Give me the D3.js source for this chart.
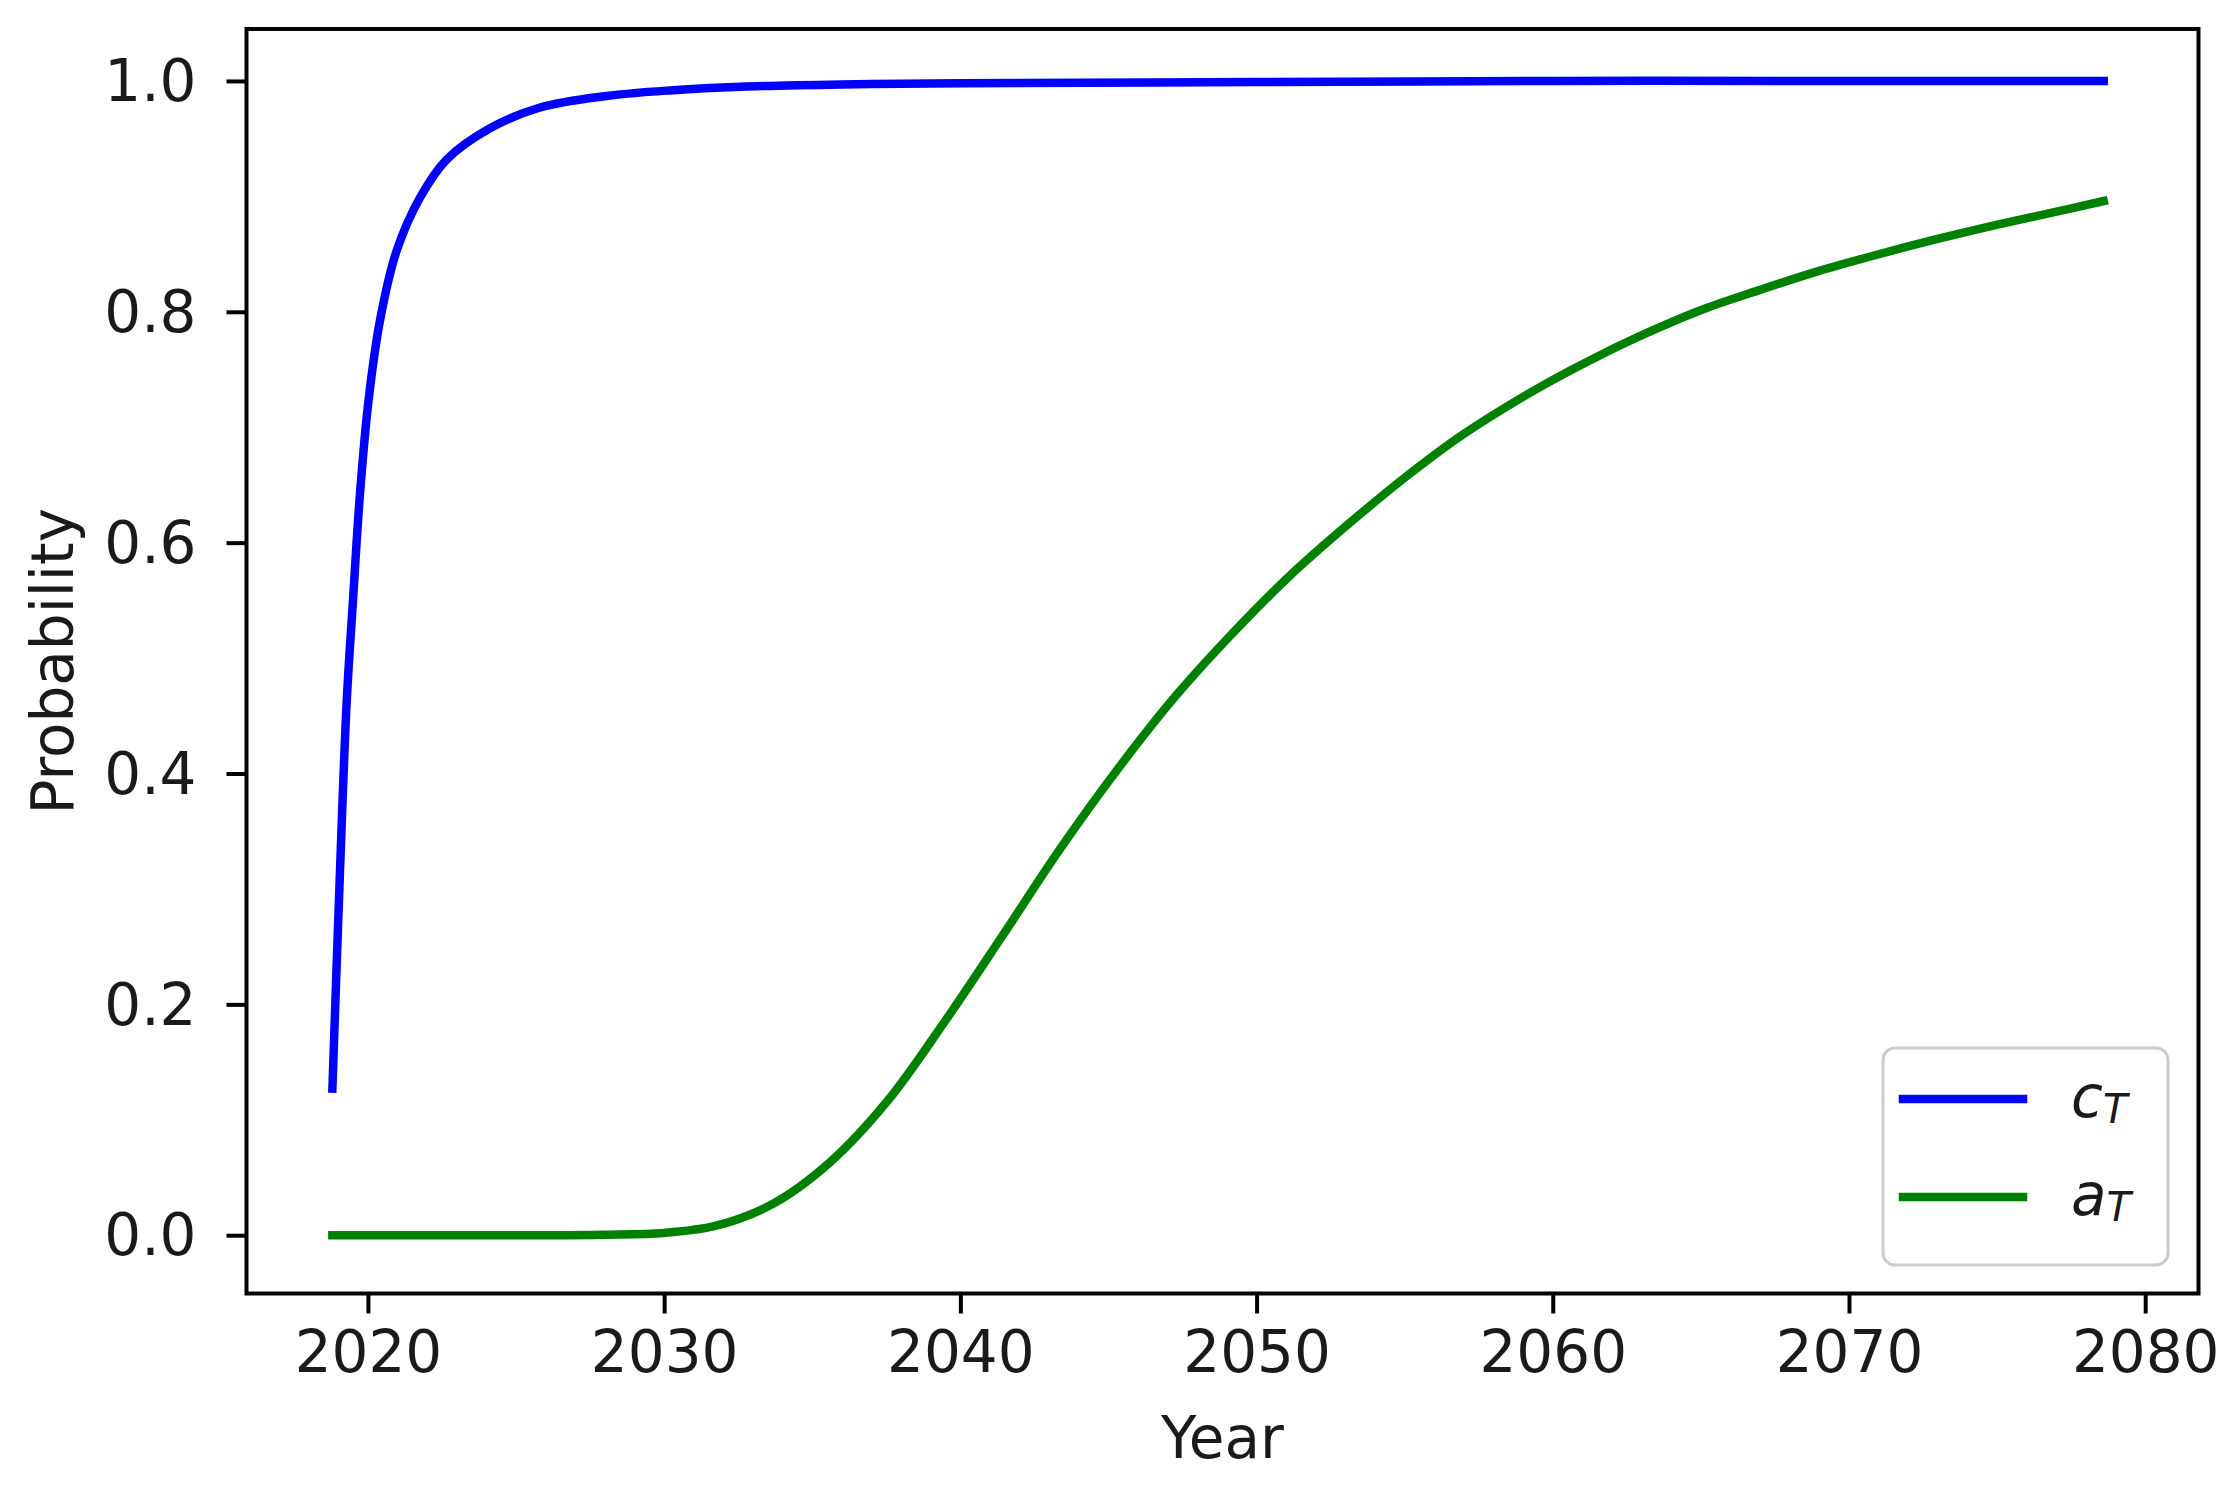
<!DOCTYPE html>
<html>
<head>
<meta charset="utf-8">
<script src="https://cdn.jsdelivr.net/npm/d3@7"></script>
<style>
	body { margin: 0; background: #fff; }
	text { font-family: "DejaVu Sans", sans-serif; fill: #1a1a1a; }
</style>
</head>
<body>
<div id="chart"></div>
<script>
// values
var cYears = [2018.8, 2019.05, 2019.28, 2019.5, 2019.73, 2020.01, 2020.41, 2020.97, 2021.76, 2022.66,
	2024.12, 2025.81, 2028.06, 2030.3, 2032.57, 2036, 2040, 2050, 2060, 2070, 2078.6];
var cValues = [0.127, 0.311, 0.461, 0.552, 0.642, 0.721, 0.793, 0.853, 0.899, 0.932,
	0.959, 0.977, 0.987, 0.992, 0.995, 0.997, 0.998, 0.999, 1.0, 1.0, 1.0];

var aYears = [2018.8, 2025, 2028, 2030, 2031.72, 2033.66, 2035.59, 2037.53, 2039.47, 2041.41,
	2043.35, 2045.29, 2047.23, 2049.17, 2051.11, 2053.05, 2054.99, 2056.93, 2059.24, 2061.18,
	2063.12, 2065.06, 2067.0, 2068.94, 2070.88, 2072.82, 2074.76, 2076.7, 2078.6];
var aValues = [0, 0, 0.0005, 0.002, 0.008, 0.027, 0.063, 0.116, 0.185, 0.259,
	0.334, 0.403, 0.466, 0.521, 0.571, 0.615, 0.656, 0.693, 0.730, 0.757,
	0.781, 0.802, 0.819, 0.835, 0.849, 0.862, 0.874, 0.885, 0.896];

var xTicks = [2020, 2030, 2040, 2050, 2060, 2070, 2080];
var yTicks = [0.0, 0.2, 0.4, 0.6, 0.8, 1.0];
var seriesNames = ["c", "a"];
var seriesColors = ["#0000ff", "#008000"];

var width = 2233;
var height = 1485;
// plot box (window.top is read only, so no "top" here)
var boxL = 246.5, boxR = 2198.5, boxT = 29, boxB = 1293.5;

var svg = d3.select("#chart")
	.append("svg")
	.attr("width", width)
	.attr("height", height);

var x = d3.scaleLinear().domain([2015.9, 2081.8]).range([boxL, boxR]);
var y = d3.scaleLinear().domain([-0.0505, 1.045]).range([boxB, boxT]);

var line = d3.line()
	.x(function (d) { return x(d[0]) })
	.y(function (d) { return y(d[1]) })
	.curve(d3.curveCatmullRom.alpha(0.5));

var series = [
	d3.zip(cYears, cValues),
	d3.zip(aYears, aValues)
];

var plot = svg.append("g");
plot.selectAll(".series")
	.data(series)
	.enter().append("path")
	.attr("class", "series")
	.attr("d", line)
	.attr("fill", "none")
	.attr("stroke", function (d, i) { return seriesColors[i] })
	.attr("stroke-width", 8.5)
	.attr("stroke-linecap", "square")
	.attr("stroke-linejoin", "round");

// axes
var xAxis = svg.append("g")
	.attr("transform", "translate(0," + boxB + ")")
	.call(d3.axisBottom(x).tickValues(xTicks).tickFormat(d3.format("d")).tickSize(20).tickPadding(14));

var yAxis = svg.append("g")
	.attr("transform", "translate(" + boxL + ",0)")
	.call(d3.axisLeft(y).tickValues(yTicks).tickFormat(d3.format(".1f")).tickSize(20).tickPadding(30));

[xAxis, yAxis].forEach(function (ax) {
	ax.select(".domain").remove();
	ax.selectAll(".tick line").attr("stroke", "#000").attr("stroke-width", 4);
	ax.selectAll(".tick text")
		.attr("font-family", "DejaVu Sans")
		.attr("font-size", 58)
		.attr("fill", "#1a1a1a");
});
xAxis.selectAll(".tick text").attr("dy", "0.76em");
yAxis.selectAll(".tick text").attr("dy", "0.34em");

// frame
svg.append("rect")
	.attr("x", boxL)
	.attr("y", boxT)
	.attr("width", boxR - boxL)
	.attr("height", boxB - boxT)
	.attr("fill", "none")
	.attr("stroke", "#000")
	.attr("stroke-width", 4);

// axis labels
svg.append("text")
	.attr("x", (boxL + boxR) / 2)
	.attr("y", 1458)
	.attr("text-anchor", "middle")
	.attr("font-size", 58)
	.text("Year");

svg.append("text")
	.attr("transform", "translate(73," + (boxT + boxB) / 2 + ") rotate(-90)")
	.attr("text-anchor", "middle")
	.attr("font-size", 58)
	.text("Probability");

// legend
var legend = svg.append("g").attr("transform", "translate(1883,1048)");
legend.append("rect")
	.attr("width", 285)
	.attr("height", 217)
	.attr("rx", 12)
	.attr("fill", "#fff")
	.attr("fill-opacity", 0.8)
	.attr("stroke", "#cccccc")
	.attr("stroke-width", 3);

var items = legend.selectAll(".item")
	.data(seriesNames)
	.enter().append("g")
	.attr("class", "item")
	.attr("transform", function (d, i) { return "translate(0," + (51 + i * 98) + ")" });

items.append("line")
	.attr("x1", 20)
	.attr("x2", 140)
	.attr("stroke", function (d, i) { return seriesColors[i] })
	.attr("stroke-width", 8.5)
	.attr("stroke-linecap", "square");

var lab = items.append("text")
	.attr("x", 188)
	.attr("y", 18)
	.attr("font-size", 58)
	.attr("font-style", "italic");
lab.append("tspan").text(function (d) { return d });
lab.append("tspan")
	.attr("font-size", 40)
	.attr("dy", 6)
	.text("T");
</script>
</body>
</html>
